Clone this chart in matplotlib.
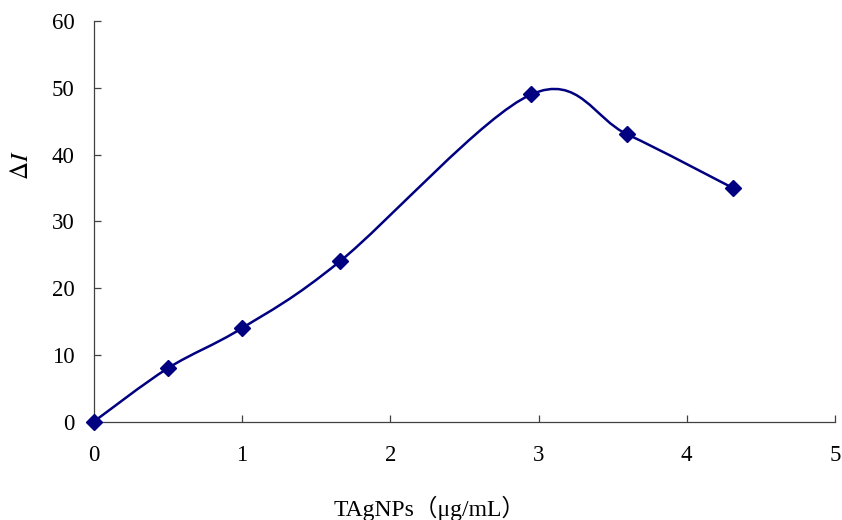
import numpy as np
import matplotlib.pyplot as plt
from matplotlib.path import Path
from matplotlib.patches import PathPatch

# TAgNPs concentration (ug/mL) and response delta I
conc = [0, 0.5, 1.0, 1.66, 2.95, 3.6, 4.31]
delta_i = [0, 8, 14, 24, 49, 43, 35]

x_ticks = [0, 1, 2, 3, 4, 5]
y_ticks = [0, 10, 20, 30, 40, 50, 60]

navy = "#000080"

plt.rcParams["font.family"] = ["Liberation Serif", "Noto Sans CJK SC", "DejaVu Sans"]
plt.rcParams["mathtext.fontset"] = "stix"


def smooth_path(xs, ys):
    # cubic bezier through the points, tangents from neighbouring points
    pts = np.column_stack([xs, ys]).astype(float)
    n = len(pts)
    verts = [pts[0]]
    codes = [Path.MOVETO]
    for i in range(n - 1):
        p0 = pts[i - 1] if i > 0 else pts[i]
        p1 = pts[i]
        p2 = pts[i + 1]
        p3 = pts[i + 2] if i + 2 < n else pts[i + 1]
        c1 = p1 + (p2 - p0) / 6.0
        c2 = p2 - (p3 - p1) / 6.0
        verts += [c1, c2, p2]
        codes += [Path.CURVE4] * 3
    return Path(verts, codes)


fig = plt.figure(figsize=(8.42, 5.2), dpi=100)
ax = fig.add_axes([0.1116, 0.1894, 0.88, 0.7702])

curve = PathPatch(smooth_path(conc, delta_i), facecolor="none",
                  edgecolor=navy, linewidth=1.8, zorder=2)
ax.add_patch(curve)
ax.plot(conc, delta_i, linestyle="none", marker="D", markersize=8.5,
        color=navy, zorder=3, clip_on=False)

ax.set_xlim(0, 5)
ax.set_ylim(0, 60)
ax.set_xticks(x_ticks)
ax.set_yticks(y_ticks)

for side in ["top", "right"]:
    ax.spines[side].set_visible(False)
for side in ["left", "bottom"]:
    ax.spines[side].set_color("#404040")
    ax.spines[side].set_linewidth(0.9)

ax.tick_params(axis="both", direction="in", length=5, width=0.9,
               color="#404040", labelsize=16.5)
ax.tick_params(axis="x", pad=17)
ax.tick_params(axis="y", pad=14)

ax.set_xlabel("TAgNPs（μg/mL）", fontsize=17, va="center")
ax.xaxis.set_label_coords(0.453, -0.216)
ax.set_ylabel(r"$\Delta I$", fontsize=18, va="center")
ax.yaxis.set_label_coords(-0.097, 0.64)

fig.savefig("out.png", dpi=100)
